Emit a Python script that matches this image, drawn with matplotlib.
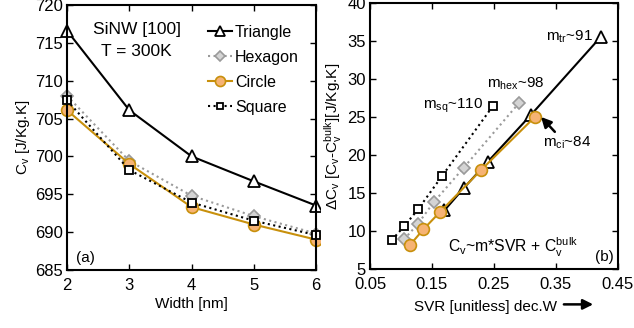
import matplotlib
matplotlib.use("Agg")
import matplotlib.pyplot as plt
from matplotlib.patches import FancyArrowPatch
from matplotlib.transforms import Bbox, TransformedBbox

plt.rcParams['font.family'] = ['Liberation Sans', 'DejaVu Sans']
plt.rcParams['mathtext.fontset'] = 'custom'
plt.rcParams['mathtext.rm'] = 'Liberation Sans'
plt.rcParams['mathtext.it'] = 'Liberation Sans:italic'
plt.rcParams['font.size'] = 11

# specific heat vs wire width
width = [2, 3, 4, 5, 6]
cv_tri = [716.6, 706.1, 700.0, 696.7, 693.5]
cv_hex = [708.0, 699.4, 694.8, 692.1, 689.8]
cv_cir = [706.1, 699.0, 693.3, 691.0, 689.0]
cv_sq = [707.4, 698.2, 693.9, 691.5, 689.6]

# excess specific heat vs surface-to-volume ratio
svr_sq = [0.085, 0.105, 0.128, 0.166, 0.248]
dcv_sq = [8.8, 10.6, 12.9, 17.2, 26.4]
svr_hex = [0.105, 0.127, 0.153, 0.201, 0.290]
dcv_hex = [8.9, 10.9, 13.8, 18.3, 26.8]
svr_cir = [0.114, 0.136, 0.163, 0.229, 0.316]
dcv_cir = [8.1, 10.2, 12.5, 18.0, 25.0]
svr_tri = [0.170, 0.202, 0.240, 0.310, 0.422]
dcv_tri = [12.7, 15.7, 19.1, 25.3, 35.5]

GOLD = '#c8900c'
ORANGE = '#f6b374'
GRAY = '#9a9a9a'

styles = {
    'Triangle': dict(color='black', ls='-', lw=1.5, marker='^', ms=8, mfc='white', mec='black', mew=1.3),
    'Hexagon': dict(color=GRAY, ls=':', lw=1.5, marker='D', ms=6, mfc='#d4d4d4', mec=GRAY, mew=1.2),
    'Circle': dict(color=GOLD, ls='-', lw=1.5, marker='o', ms=8.5, mfc=ORANGE, mec=GOLD, mew=1.2),
    'Square': dict(color='black', ls=':', lw=1.5, marker='s', ms=5.5, mfc='white', mec='black', mew=1.3),
}

fig = plt.figure(figsize=(6.34, 3.28), dpi=100)
ax1 = fig.add_axes([0.1057, 0.177, 0.393, 0.808])
ax2 = fig.add_axes([0.5836, 0.180, 0.391, 0.811])

# left panel markers spill over the axes but stop at the panel edge
left_clip = TransformedBbox(Bbox([[0, 0], [320 / 634, 1]]), fig.transFigure)
lines = []
lines += ax1.plot(width, cv_tri, label='Triangle', **styles['Triangle'])
lines += ax1.plot(width, cv_hex, label='Hexagon', **styles['Hexagon'])
lines += ax1.plot(width, cv_cir, label='Circle', **styles['Circle'])
lines += ax1.plot(width, cv_sq, label='Square', **styles['Square'])
for ln in lines:
    ln.set_clip_box(left_clip)
ax1.set_xlim(2, 6)
ax1.set_ylim(685, 720)
ax1.set_xticks(width)
ax1.set_yticks(range(685, 721, 5))
ax1.set_xlabel('Width [nm]', labelpad=3)
ax1.set_ylabel('C$_{\\mathrm{v}}$ [J/Kg.K]', labelpad=2)
leg = ax1.legend(loc='upper left', bbox_to_anchor=(0.565, 0.925), frameon=False,
                 handlelength=1.5, handletextpad=0.2, labelspacing=0.62,
                 borderaxespad=0, borderpad=0, fontsize=11.5)
for h in leg.legend_handles:
    h.set_markersize(h.get_markersize() * 0.85)
ax1.text(3.12, 716.7, 'SiNW [100]', ha='center', va='center', fontsize=12.5)
ax1.text(3.12, 713.8, 'T = 300K', ha='center', va='center', fontsize=12.5)
ax1.text(2.15, 686.6, '(a)', ha='left', va='center', fontsize=11)

ax2.plot(svr_tri, dcv_tri, **styles['Triangle'])
ax2.plot(svr_hex, dcv_hex, **styles['Hexagon'])
ax2.plot(svr_cir, dcv_cir, **styles['Circle'])
ax2.plot(svr_sq, dcv_sq, **styles['Square'])
ax2.set_xlim(0.05, 0.45)
ax2.set_ylim(5, 40)
ax2.set_xticks([0.05, 0.15, 0.25, 0.35, 0.45])
ax2.set_xticklabels(['0.05', '0.15', '0.25', '0.35', '0.45'])
ax2.set_yticks(range(5, 41, 5))
ax2.set_xlabel('SVR [unitless] dec.W')
ax2.xaxis.set_label_coords(0.465, -0.115)
ax2.set_ylabel('$\\Delta$C$_{\\mathrm{v}}$ [C$_{\\mathrm{v}}$-C$_{\\mathrm{v}}^{\\mathrm{bulk}}$][J/Kg.K]',
               labelpad=2)

ax2.text(0.233, 26.4, 'm$_{\\mathrm{sq}}$~110', ha='right', va='center', fontsize=11)
ax2.text(0.239, 29.3, 'm$_{\\mathrm{hex}}$~98', ha='left', va='center', fontsize=11)
ax2.text(0.410, 35.6, 'm$_{\\mathrm{tr}}$~91', ha='right', va='center', fontsize=11)
ax2.annotate('m$_{\\mathrm{ci}}$~84', xy=(0.326, 25.0), xytext=(0.329, 21.6),
             ha='left', va='center', fontsize=11,
             arrowprops=dict(arrowstyle='-|>', color='black', lw=1.8, mutation_scale=15,
                             shrinkA=0, shrinkB=0, relpos=(0.3, 1.0)))
ax2.text(0.176, 7.8, 'C$_{\\mathrm{v}}$~m*SVR + C$_{\\mathrm{v}}^{\\mathrm{bulk}}$', ha='left',
         va='center', fontsize=11.3)
ax2.text(0.443, 5.6, '(b)', ha='right', va='bottom', fontsize=11)

# arrow after the SVR label
fig.add_artist(FancyArrowPatch((0.885, 0.072), (0.94, 0.072), transform=fig.transFigure,
                               arrowstyle='-|>', mutation_scale=15, lw=1.8, color='black'))

for ax in (ax1, ax2):
    for sp in ax.spines.values():
        sp.set_linewidth(1.5)
    ax.tick_params(direction='in', length=4, width=1.0, top=True, right=True, labelsize=12)
    ax.tick_params(axis='x', pad=6)
    ax.tick_params(axis='y', pad=3)

fig.savefig('out.png', dpi=100)
